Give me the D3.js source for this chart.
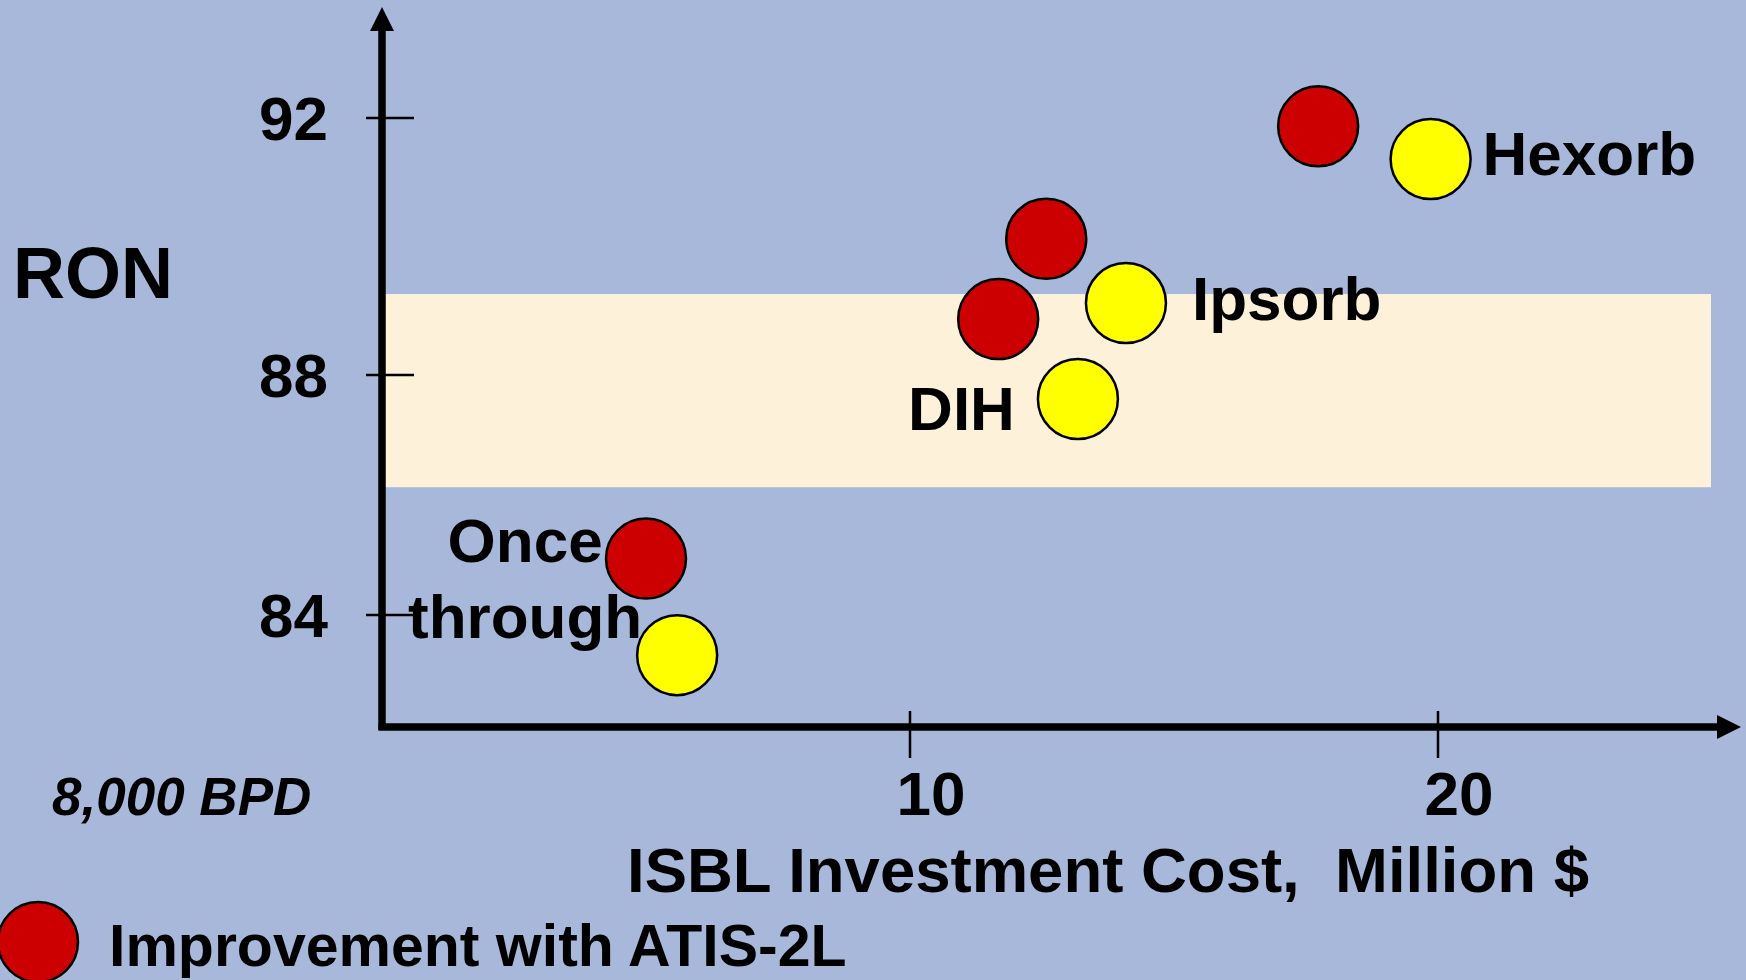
<!DOCTYPE html>
<html>
<head>
<meta charset="utf-8">
<script src="https://cdn.jsdelivr.net/npm/d3@7"></script>
<style>
  html, body { margin: 0; padding: 0; background: #A8B8DB; }
  svg { display: block; }
  text { font-family: "Liberation Sans", Arial, sans-serif; font-weight: bold; fill: #000; white-space: pre; }
</style>
</head>
<body>
<svg id="chart" width="1746" height="980"></svg>
<script>
// ---- data ----
const processes   = ["Once through", "DIH", "Ipsorb", "Hexorb"];
const baseCost    = [5.59, 13.18, 14.09, 19.86];   // yellow, ISBL cost (Million $)
const baseRON     = [83.33, 87.60, 89.12, 91.36];
const atisCost    = [5.00, 11.67, 12.58, 17.73];   // red, improvement with ATIS-2L
const atisRON     = [84.94, 88.87, 90.12, 91.87];
const targetBand  = [86.13, 89.26];                // shaded RON band
const bandCostEnd = 25.17;
const xTicks      = [10, 20];
const yTicks      = [84, 88, 92];
const xTitle      = "ISBL Investment Cost,  Million $";
const yTitle      = "RON";
const noteText    = "8,000 BPD";
const legendText  = "Improvement with ATIS-2L";

// ---- layout ----
const svg = d3.select("#chart");
const x = d3.scaleLinear().domain([0, 20]).range([382, 1438]);
const y = d3.scaleLinear().domain([84, 88, 92]).range([615, 375, 118]);
const axisY = 727, axisX = x(0);
const xArrowEnd = 1741, yArrowTop = 7;
const R = 40;

// band
svg.append("rect")
  .attr("x", x(0)).attr("y", y(targetBand[1]))
  .attr("width", x(bandCostEnd) - x(0))
  .attr("height", y(targetBand[0]) - y(targetBand[1]))
  .attr("fill", "#FDF1DA");

// axes lines
svg.append("line").attr("x1", axisX).attr("x2", axisX)
  .attr("y1", axisY + 3).attr("y2", yArrowTop + 20)
  .attr("stroke", "#000").attr("stroke-width", 7.5);
svg.append("path")
  .attr("d", `M${axisX - 12},${yArrowTop + 24} L${axisX},${yArrowTop} L${axisX + 12},${yArrowTop + 24} Z`)
  .attr("fill", "#000");
svg.append("line").attr("x1", axisX - 3.5).attr("x2", xArrowEnd - 20)
  .attr("y1", axisY).attr("y2", axisY)
  .attr("stroke", "#000").attr("stroke-width", 7.5);
svg.append("path")
  .attr("d", `M${xArrowEnd - 24},${axisY - 12} L${xArrowEnd},${axisY} L${xArrowEnd - 24},${axisY + 12} Z`)
  .attr("fill", "#000");

// y ticks
svg.selectAll(".ytick").data(yTicks).enter().append("line")
  .attr("x1", axisX - 16).attr("x2", axisX + 32)
  .attr("y1", d => y(d)).attr("y2", d => y(d))
  .attr("stroke", "#000").attr("stroke-width", 2.5);
svg.selectAll(".ylab").data(yTicks).enter().append("text")
  .attr("x", 328).attr("y", d => y(d) + 22)
  .attr("text-anchor", "end").attr("font-size", 62)
  .text(d => d);

// x ticks
svg.selectAll(".xtick").data(xTicks).enter().append("line")
  .attr("x1", d => x(d)).attr("x2", d => x(d))
  .attr("y1", axisY - 16).attr("y2", axisY + 31)
  .attr("stroke", "#000").attr("stroke-width", 2.5);
svg.selectAll(".xlab").data(xTicks).enter().append("text")
  .attr("x", d => x(d) + 21).attr("y", 815)
  .attr("text-anchor", "middle").attr("font-size", 62)
  .text(d => d);

// titles
svg.append("text").attr("x", 13).attr("y", 298).attr("font-size", 72).text(yTitle);
svg.append("text").attr("x", 627).attr("y", 892).attr("font-size", 63.5)
  .attr("xml:space", "preserve").text(xTitle);
svg.append("text").attr("x", 52).attr("y", 815).attr("font-size", 53)
  .attr("font-style", "italic").text(noteText);

// points
const atis = processes.map((p, i) => ({p, cx: atisCost[i], cy: atisRON[i]}));
const base = processes.map((p, i) => ({p, cx: baseCost[i], cy: baseRON[i]}));
svg.selectAll(".atis").data(atis).enter().append("circle")
  .attr("cx", d => x(d.cx)).attr("cy", d => y(d.cy)).attr("r", R)
  .attr("fill", "#CC0000").attr("stroke", "#000").attr("stroke-width", 2.5);
svg.selectAll(".base").data(base).enter().append("circle")
  .attr("cx", d => x(d.cx)).attr("cy", d => y(d.cy)).attr("r", R)
  .attr("fill", "#FFFF00").attr("stroke", "#000").attr("stroke-width", 2.5);

// point labels (offsets from yellow point, layout only)
const labelLayout = {
  "Hexorb": {dx: 52, dy: 16, anchor: "start"},
  "Ipsorb": {dx: 66, dy: 17, anchor: "start"},
  "DIH": {dx: -63, dy: 31, anchor: "end"},
  "Once through": {dx: -152, dy: -93, anchor: "middle", lineH: 76}
};
base.forEach(d => {
  const L = labelLayout[d.p];
  const t = svg.append("text")
    .attr("x", x(d.cx) + L.dx).attr("y", y(d.cy) + L.dy)
    .attr("text-anchor", L.anchor).attr("font-size", 62);
  const words = L.lineH ? d.p.split(" ") : [d.p];
  words.forEach((w, k) => {
    t.append("tspan").attr("x", x(d.cx) + L.dx).attr("dy", k === 0 ? 0 : L.lineH).text(w);
  });
});

// legend
svg.append("circle").attr("cx", 38).attr("cy", 942).attr("r", R)
  .attr("fill", "#CC0000").attr("stroke", "#000").attr("stroke-width", 2.5);
svg.append("text").attr("x", 109).attr("y", 966).attr("font-size", 59).text(legendText);
</script>
</body>
</html>
